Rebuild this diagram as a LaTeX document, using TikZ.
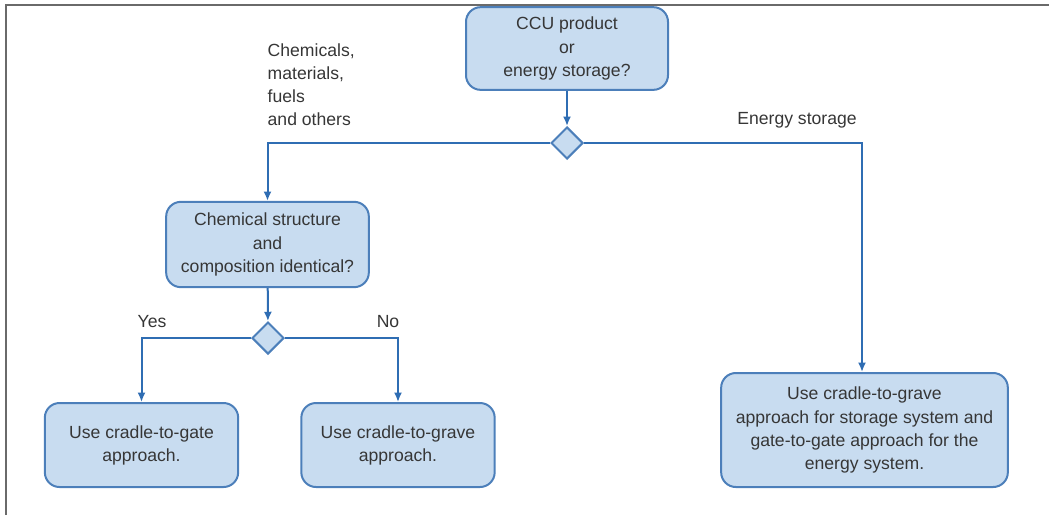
\documentclass[tikz,border=0pt]{standalone}
\usepackage{fontspec}
\setmainfont{Liberation Sans}
\usepackage{tikz}
\usetikzlibrary{
arrows.meta,
positioning,
shapes.geometric
}
\definecolor{FlowBlue}{HTML}{2F6DB3}
\definecolor{EdgeBlue}{HTML}{4C7FBA}
\definecolor{SoftBlue}{HTML}{C8DCF0}
\definecolor{TextGray}{HTML}{363636}
\definecolor{FrameGray}{HTML}{6A6A6A}

\begin{document}
\begin{tikzpicture}[x=0.75pt,y=-0.75pt,>={Latex[length=7pt,width=6pt]},every node/.style={font=\fontsize{13.2}{17.3}\selectfont, align=center, text=TextGray}, choice/.style={draw=EdgeBlue, fill=SoftBlue, line width=1.5pt, rounded corners=11pt, inner sep=2pt}, gate/.style={diamond, draw=EdgeBlue, fill=SoftBlue, line width=1.5pt, minimum width=24pt, minimum height=24pt, inner sep=0pt}, flow/.style={draw=FlowBlue, line width=1.5pt}]
        \useasboundingbox (0,0) rectangle (1049,515);
        \draw[FrameGray, line width=1.4pt] (6,515) -- (6,5) -- (1049,5);
        \node[choice, minimum width=151.5pt, minimum height=62pt] (ccu) at (567,48.5) {CCU product\\or\\energy storage?};
        \node[gate] (split) at (567,143) {};
        \node[choice, minimum width=152pt, minimum height=64pt] (ident) at (267.5,244.5) {Chemical structure\\and\\composition identical?};
        \node[gate] (check) at (268,338) {};
        \node[choice, minimum width=145pt, minimum height=63pt] (gate) at (141.5,445) {Use cradle-to-gate\\approach.};
        \node[choice, minimum width=145pt, minimum height=63pt] (grave) at (398,445) {Use cradle-to-grave\\approach.};
        \node[choice, minimum width=215pt, minimum height=85.5pt] (store) at (864.5,430) {Use cradle-to-grave\\approach for storage system and\\gate-to-gate approach for the\\energy system.};
        \node[align=left, anchor=west] (chem) at (263,85) {Chemicals,\\materials,\\fuels\\and others};
        \node (energy) at (797,120) {Energy storage};
        \node (yes) at (152,322) {Yes};
        \node (no) at (388,322) {No};
        \draw[flow, ->] (ccu) -- (split);
        \draw[flow, ->] (split.west) -| (ident.north);
        \draw[flow, ->] (split.east) -| (store.north -| 862,0);
        \draw[flow, ->] (ident) -- (check);
        \draw[flow, ->] (check.west) -| (gate.north);
        \draw[flow, ->] (check.east) -| (grave.north);
    \end{tikzpicture}
\end{document}
